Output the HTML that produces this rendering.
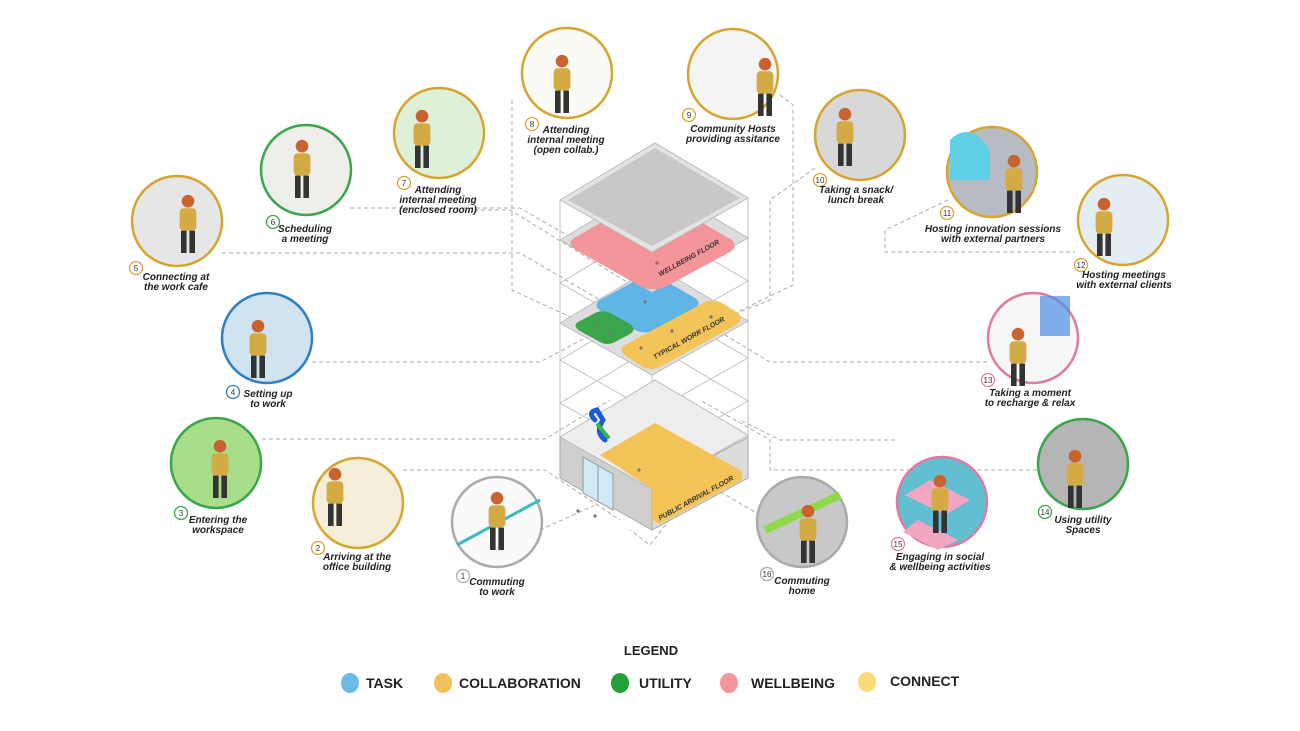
<!DOCTYPE html>
<html><head><meta charset="utf-8"><style>
html,body{margin:0;padding:0;background:#fff;}
svg{display:block;font-family:"Liberation Sans",sans-serif;}
.lb{font-size:10px;font-weight:bold;font-style:italic;fill:#222;text-anchor:middle;}
.bn{font-size:8px;fill:#333;text-anchor:middle;}
.d{stroke:#aaa;stroke-width:1;stroke-dasharray:4 3;fill:none;}
.w{stroke:#bbb;stroke-width:0.9;fill:none;}
.lg{font-size:14px;font-weight:bold;fill:#222;}
</style></head><body>
<svg width="1300" height="731" viewBox="0 0 1300 731">
<defs>
<g id="p" transform="scale(1.4)"><rect x="-6" y="-12" width="12" height="16" rx="3" fill="#d4aa45"/><circle cx="0" cy="-17" r="4.5" fill="#c9622e"/><rect x="-5" y="4" width="4" height="16" fill="#333"/><rect x="1" y="4" width="4" height="16" fill="#333"/></g>
</defs>
<path class="d" d="M222 253 H520 L600 300"/>
<path class="d" d="M350 208 H520 L610 260"/>
<path class="d" d="M474 210 H510 L640 290"/>
<path class="d" d="M512 100 V290 L620 340"/>
<path class="d" d="M312 362 H540 L600 330"/>
<path class="d" d="M262 439 H545 L610 400"/>
<path class="d" d="M403 470 H545 L620 520"/>
<path class="d" d="M540 530 L595 505"/>
<path class="d" d="M780 95 L793 105 V285 L700 330"/>
<path class="d" d="M815 168 L770 200 V300 L720 320"/>
<path class="d" d="M948 200 L885 230 V252 H1075"/>
<path class="d" d="M987 362 H770 L700 320"/>
<path class="d" d="M1037 470 H770 V440 L700 400"/>
<path class="d" d="M895 440 H780 L740 420"/>
<path class="d" d="M760 515 L700 480 L650 545 L630 530"/>
<g>
<line class="w" x1="560" y1="200" x2="560" y2="478"/>
<line class="w" x1="748" y1="198" x2="748" y2="478"/>
<line class="w" x1="652" y1="252" x2="652" y2="530"/>
<path class="w" d="M560 283 L655 226 L748 281 L652 335 Z"/>
<path class="w" d="M560 360 L655 303 L748 358 L652 412 Z"/>
<path class="w" d="M560 403 L655 346 L748 401 L652 455 Z"/>
<path d="M560 323 L655 266 L748 321 L652 375 Z" fill="#ddd" stroke="#bbb"/>
<path d="M600 300 L640 278 Q650 272 662 279 L695 298 Q703 304 693 310 L655 330 Q645 335 635 330 L602 312 Q592 306 600 300 Z" fill="#5fb5e5"/>
<path d="M578 322 L595 313 Q603 309 612 314 L630 324 Q637 330 630 334 L615 342 Q607 346 600 342 L580 331 Q572 326 578 322 Z" fill="#3aa54a"/>
<path d="M625 345 L705 302 Q713 298 722 303 L738 313 Q744 320 736 325 L660 367 Q652 371 643 367 L627 357 Q617 350 625 345 Z" fill="#f3c457"/>
<text x="690" y="340" font-size="7" font-weight="bold" font-style="italic" fill="#333" transform="rotate(-29 690 340)" text-anchor="middle">TYPICAL WORK FLOOR</text>
<path d="M560 240 L655 183 L748 238 L652 292 Z" fill="#ddd" stroke="#bbb"/>
<path d="M574 238 L640 200 Q652 194 664 201 L732 240 Q738 247 730 252 L665 287 Q652 292 640 286 L576 250 Q566 243 574 238 Z" fill="#f4959a"/>
<text x="690" y="260" font-size="7" font-weight="bold" font-style="italic" fill="#333" transform="rotate(-29 690 260)" text-anchor="middle">WELLBEING FLOOR</text>
<path d="M560 200 L655 143 L748 198 L652 252 Z" fill="#e3e3e3" stroke="#bbb"/>
<path d="M568 200 L655 148 L740 198 L652 246 Z" fill="#c8c8c8"/>
<path d="M560 437 L652 489 L652 530 L560 478 Z" fill="#cfcfcf" stroke="#aaa"/>
<path d="M652 489 L748 437 L748 478 L652 530 Z" fill="#dcdcdc" stroke="#aaa"/>
<path d="M560 437 L655 380 L748 435 L652 489 Z" fill="#eee" stroke="#bbb"/>
<path d="M600 455 L655 423 L740 470 L652 489 Z" fill="#f3c457"/>
<path d="M652 489 L740 470 Q746 478 738 482 L660 524 L652 520 Z" fill="#f3c457"/>
<path d="M583 457 L613 474 V510 L583 493 Z" fill="#cfeaf6" stroke="#999"/>
<line x1="598" y1="465" x2="598" y2="502" stroke="#999"/>
<text x="697" y="500" font-size="7" font-weight="bold" font-style="italic" fill="#333" transform="rotate(-29 697 500)" text-anchor="middle">PUBLIC ARRIVAL FLOOR</text>
<path d="M595 420 q-8 -8 2 -10 l6 10 q-8 12 2 20" stroke="#1e5bd6" stroke-width="5" fill="none" stroke-linecap="round"/>
<path d="M598 425 l10 12" stroke="#3ab54a" stroke-width="4" stroke-linecap="round"/>
</g>
<g fill="#777"><circle cx="657" cy="263" r="1.6"/><circle cx="645" cy="302" r="1.6"/><circle cx="597" cy="326" r="1.6"/><circle cx="609" cy="334" r="1.6"/><circle cx="641" cy="348" r="1.6"/><circle cx="672" cy="331" r="1.6"/><circle cx="699" cy="331" r="1.6"/><circle cx="711" cy="317" r="1.6"/><circle cx="639" cy="470" r="1.6"/><circle cx="578" cy="511" r="1.6"/><circle cx="595" cy="516" r="1.6"/></g>
<g stroke-width="2.5">
<circle cx="497" cy="522" r="45" fill="#fafafa" stroke="#aaa"/>
<circle cx="358" cy="503" r="45" fill="#f5efd9" stroke="#d4a530"/>
<circle cx="216" cy="463" r="45" fill="#a8dd8a" stroke="#3aa54a"/>
<circle cx="267" cy="338" r="45" fill="#cfe3f0" stroke="#2f7fc1"/>
<circle cx="177" cy="221" r="45" fill="#e6e6e6" stroke="#d4a530"/>
<circle cx="306" cy="170" r="45" fill="#eeeeea" stroke="#3aa54a"/>
<circle cx="439" cy="133" r="45" fill="#dff0d8" stroke="#d4a530"/>
<circle cx="567" cy="73" r="45" fill="#fbfbf6" stroke="#d4a530"/>
<circle cx="733" cy="74" r="45" fill="#f4f4f4" stroke="#d4a530"/>
<circle cx="860" cy="135" r="45" fill="#d8d8d8" stroke="#d4a530"/>
<circle cx="992" cy="172" r="45" fill="#b7bcc4" stroke="#d4a530"/>
<circle cx="1123" cy="220" r="45" fill="#e4eef2" stroke="#d4a530"/>
<circle cx="1033" cy="338" r="45" fill="#f6f6f6" stroke="#e07aa5"/>
<circle cx="1083" cy="464" r="45" fill="#b5b5b5" stroke="#3aa54a"/>
<circle cx="942" cy="502" r="45" fill="#62bfd2" stroke="#e07aa5"/>
<circle cx="802" cy="522" r="45" fill="#c8c8c8" stroke="#aaa"/>
</g>
<path d="M457 545 L540 500" stroke="#3bbac0" stroke-width="3"/>
<path d="M930 480 l40 20 l-25 15 l-40 -20 Z M918 520 l40 20 l-20 10 l-35 -18 Z" fill="#f3a6c2"/>
<path d="M990 150 q-20 -30 -40 -10 v40 h40 Z" fill="#5fd0e6"/>
<path d="M765 530 L840 495" stroke="#8fd94a" stroke-width="8"/>
<path d="M1040 296 h30 v40 h-30 Z" fill="#4f8fe8" opacity="0.7"/>
<use href="#p" x="497" y="522"/><use href="#p" x="335" y="498"/><use href="#p" x="220" y="470"/><use href="#p" x="258" y="350"/><use href="#p" x="188" y="225"/><use href="#p" x="302" y="170"/><use href="#p" x="422" y="140"/><use href="#p" x="562" y="85"/><use href="#p" x="765" y="88"/><use href="#p" x="845" y="138"/><use href="#p" x="1014" y="185"/><use href="#p" x="1104" y="228"/><use href="#p" x="1018" y="358"/><use href="#p" x="1075" y="480"/><use href="#p" x="940" y="505"/><use href="#p" x="808" y="535"/>
<g fill="#fff" stroke-width="1.3">
<circle cx="463" cy="576" r="6.5" stroke="#aaa"/><circle cx="318" cy="548" r="6.5" stroke="#d4a530"/><circle cx="181" cy="513" r="6.5" stroke="#3aa54a"/><circle cx="233" cy="392" r="6.5" stroke="#2f7fc1"/><circle cx="136" cy="268" r="6.5" stroke="#d4a530"/><circle cx="273" cy="222" r="6.5" stroke="#3aa54a"/><circle cx="404" cy="183" r="6.5" stroke="#d4a530"/><circle cx="532" cy="124" r="6.5" stroke="#d4a530"/><circle cx="689" cy="115" r="6.5" stroke="#d4a530"/><circle cx="820" cy="180" r="6.5" stroke="#d4a530"/><circle cx="947" cy="213" r="6.5" stroke="#d4a530"/><circle cx="1081" cy="265" r="6.5" stroke="#d4a530"/><circle cx="988" cy="380" r="6.5" stroke="#e07aa5"/><circle cx="1045" cy="512" r="6.5" stroke="#3aa54a"/><circle cx="898" cy="544" r="6.5" stroke="#e07aa5"/><circle cx="767" cy="574" r="6.5" stroke="#aaa"/>
</g>
<g class="bn">
<text x="463" y="579">1</text><text x="318" y="551">2</text><text x="181" y="516">3</text><text x="233" y="395">4</text><text x="136" y="271">5</text><text x="273" y="225">6</text><text x="404" y="186">7</text><text x="532" y="127">8</text><text x="689" y="118">9</text><text x="820" y="183">10</text><text x="947" y="216">11</text><text x="1081" y="268">12</text><text x="988" y="383">13</text><text x="1045" y="515">14</text><text x="898" y="547">15</text><text x="767" y="577">16</text>
</g>
<g class="lb">
<text x="497" y="585">Commuting</text><text x="497" y="595">to work</text>
<text x="357" y="560">Arriving at the</text><text x="357" y="570">office building</text>
<text x="218" y="523">Entering the</text><text x="218" y="533">workspace</text>
<text x="268" y="397">Setting up</text><text x="268" y="407">to work</text>
<text x="176" y="280">Connecting at</text><text x="176" y="290">the work cafe</text>
<text x="305" y="232">Scheduling</text><text x="305" y="242">a meeting</text>
<text x="438" y="193">Attending</text><text x="438" y="203">internal meeting</text><text x="438" y="213">(enclosed room)</text>
<text x="566" y="133">Attending</text><text x="566" y="143">internal meeting</text><text x="566" y="153">(open collab.)</text>
<text x="733" y="132">Community Hosts</text><text x="733" y="142">providing assitance</text>
<text x="856" y="193">Taking a snack/</text><text x="856" y="203">lunch break</text>
<text x="993" y="232">Hosting innovation sessions</text><text x="993" y="242">with external partners</text>
<text x="1124" y="278">Hosting meetings</text><text x="1124" y="288">with external clients</text>
<text x="1030" y="396">Taking a moment</text><text x="1030" y="406">to recharge &amp; relax</text>
<text x="1083" y="523">Using utility</text><text x="1083" y="533">Spaces</text>
<text x="940" y="560">Engaging in social</text><text x="940" y="570">&amp; wellbeing activities</text>
<text x="802" y="584">Commuting</text><text x="802" y="594">home</text>
</g>
<text x="651" y="655" text-anchor="middle" font-size="13" font-weight="bold" fill="#222">LEGEND</text>
<ellipse cx="350" cy="683" rx="9" ry="10" fill="#6bbbe8"/><text class="lg" x="366" y="688">TASK</text>
<ellipse cx="443" cy="683" rx="9" ry="10" fill="#f2c05a"/><text class="lg" x="459" y="688">COLLABORATION</text>
<ellipse cx="620" cy="683" rx="9" ry="10" fill="#23a03a"/><text class="lg" x="639" y="688">UTILITY</text>
<ellipse cx="729" cy="683" rx="9" ry="10" fill="#f5969a"/><text class="lg" x="751" y="688">WELLBEING</text>
<ellipse cx="867" cy="682" rx="9" ry="10" fill="#fcd978"/><text class="lg" x="890" y="686">CONNECT</text>
</svg>
</body></html>
